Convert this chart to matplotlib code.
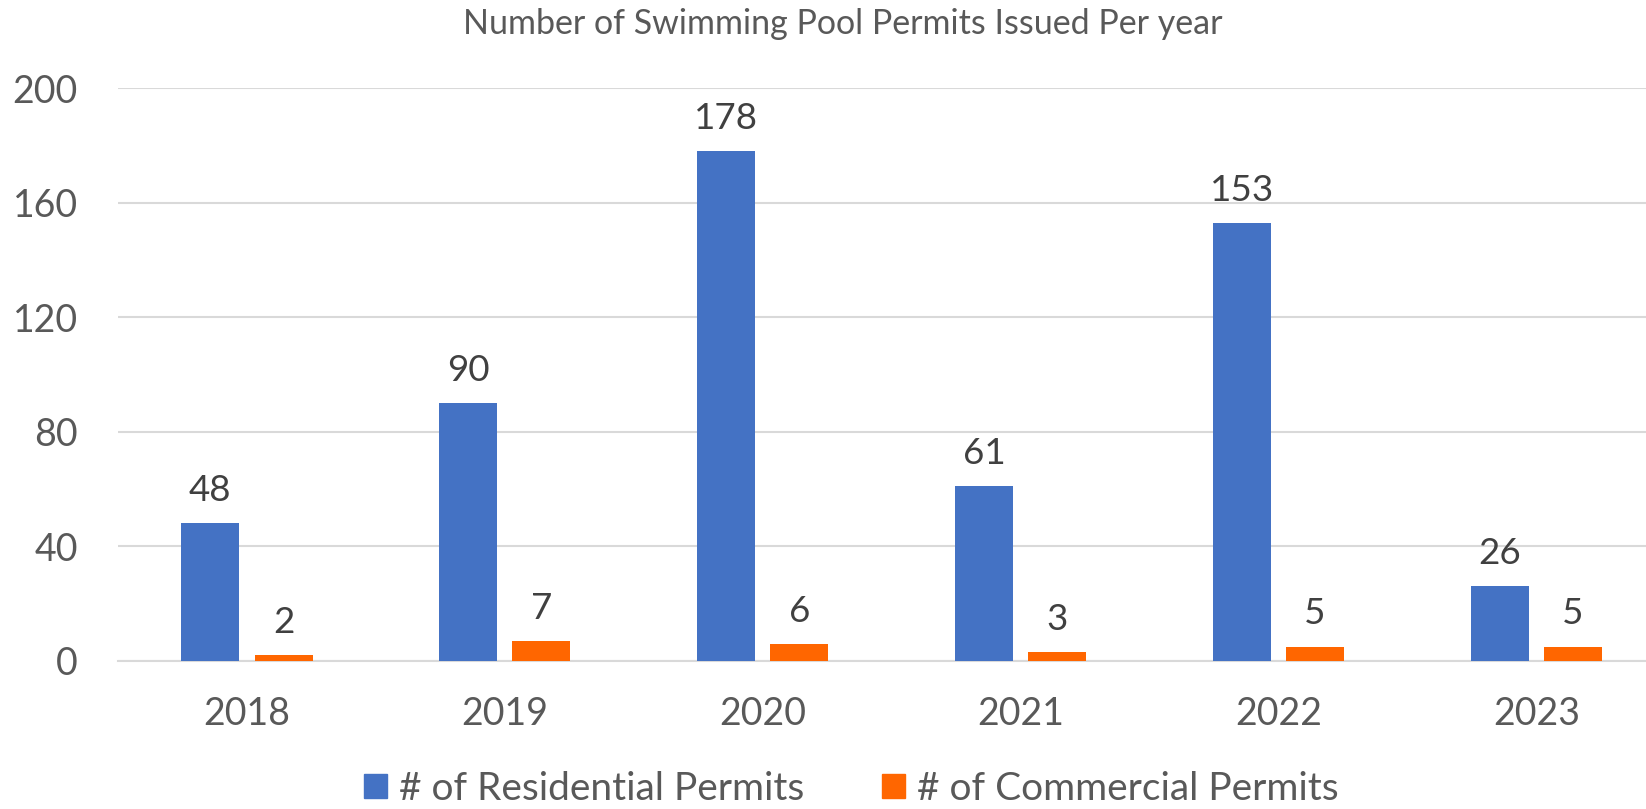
"""
Grouped bar chart of swimming pool permits issued per year.
"""
import matplotlib
matplotlib.use('Agg')
import matplotlib.pyplot as plt
from matplotlib.patches import Patch
import numpy as np

years = ['2018', '2019', '2020', '2021', '2022', '2023']
residential = [48, 90, 178, 61, 153, 26]
commercial = [2, 7, 6, 3, 5, 5]
y_ticks = [0, 40, 80, 120, 160, 200]

title = 'Number of Swimming Pool Permits Issued Per year'
series_names = ['# of Residential Permits', '# of Commercial Permits']
colours = ['#4472C4', '#FF6600']

plt.rcParams['font.family'] = ['Lato', 'DejaVu Sans']

fig = plt.figure(figsize=(16.46, 8.09), dpi=100)
# Axes run slightly past the right edge, as in the reference crop
ax = fig.add_axes([0.0717, 0.183, 0.94, 0.708])

x = np.arange(len(years))
width = 0.225
offset = 0.142
bars_res = ax.bar(x - offset, residential, width, color=colours[0], zorder=3)
bars_com = ax.bar(x + offset, commercial, width, color=colours[1], zorder=3)

# Value labels above each bar
for bars, values in ((bars_res, residential), (bars_com, commercial)):
    for bar, val in zip(bars, values):
        ax.annotate(f'{val}', (bar.get_x() + bar.get_width() / 2, val),
                    xytext=(0, 16), textcoords='offset points',
                    ha='center', va='baseline', fontsize=26.5, color='#404040')

ax.set_xlim(-0.5, len(years) - 0.5)
ax.set_ylim(0, 200)
ax.set_yticks(y_ticks)
ax.set_xticks(x)
ax.set_xticklabels(years)
ax.tick_params(axis='both', length=0, labelsize=27, labelcolor='#595959')
ax.tick_params(axis='x', pad=25)
ax.tick_params(axis='y', pad=29)

ax.grid(axis='y', color='#D9D9D9', linewidth=1.5, zorder=0)
for side in ('top', 'right', 'left'):
    ax.spines[side].set_visible(False)
ax.spines['bottom'].set_color('#D9D9D9')
ax.spines['bottom'].set_linewidth(1.5)

fig.text(0.512, 0.958, title, ha='center', va='baseline',
         fontsize=24.5, color='#595959')

handles = [Patch(color=c) for c in colours]
fig.legend(handles, series_names, loc='center', bbox_to_anchor=(0.517, 0.025),
           ncol=2, frameon=False, fontsize=28, labelcolor='#595959',
           handlelength=0.6, handleheight=0.6, handletextpad=0.3,
           columnspacing=2.0, borderaxespad=0, borderpad=0)

fig.savefig('out.png', dpi=100)
